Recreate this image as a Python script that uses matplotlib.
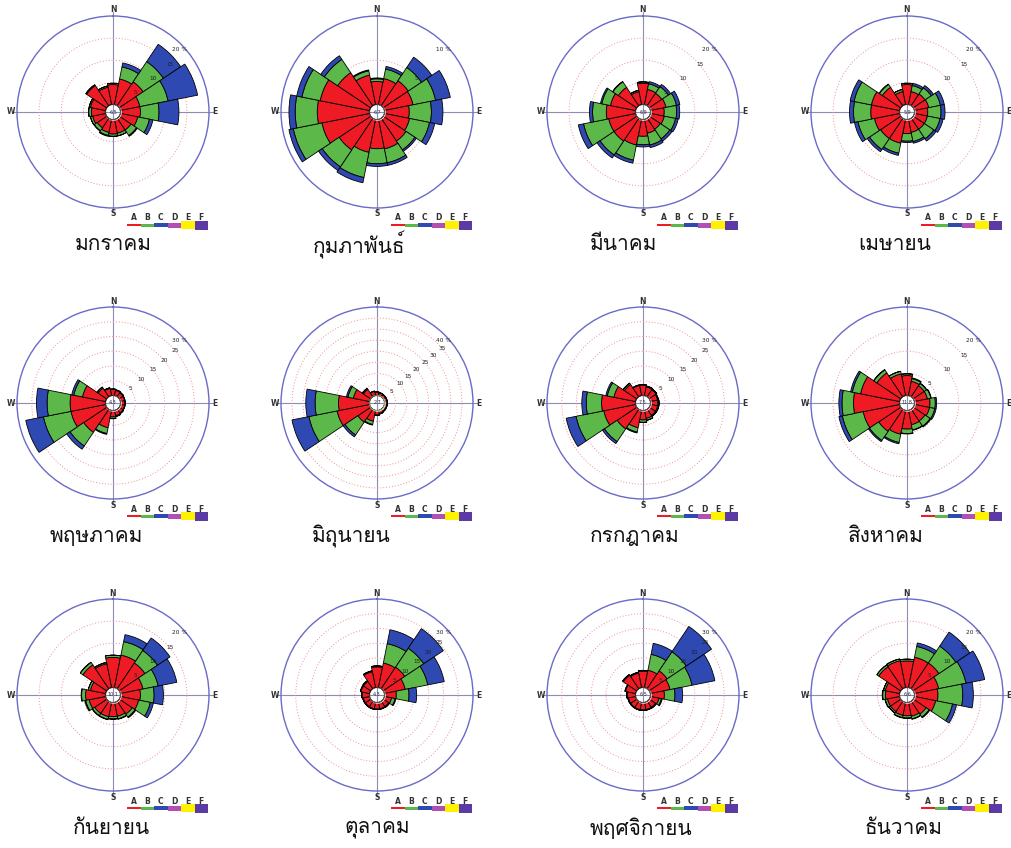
import numpy as np
import matplotlib
matplotlib.use("Agg")
import matplotlib.pyplot as plt
from matplotlib.patches import Rectangle

# wind rose data, % frequency per direction and speed class
directions = ["N", "NNE", "NE", "ENE", "E", "ESE", "SE", "SSE",
              "S", "SSW", "SW", "WSW", "W", "WNW", "NW", "NNW"]
months = ["มกราคม", "กุมภาพันธ์", "มีนาคม", "เมษายน",
          "พฤษภาคม", "มิถุนายน", "กรกฎาคม", "สิงหาคม",
          "กันยายน", "ตุลาคม", "พฤศจิกายน", "ธันวาคม"]
calm = ["6.5", "6.7", "6.9", "5.9", "4.3", "2.7", "7.5", "11.8", "10.1", "4.3", "6.5", "6.6"]
scale_max = [20, 10, 20, 20, 30, 40, 30, 20, 20, 30, 30, 20]
legend_letters = ["A", "B", "C", "D", "E", "F"]

a_jan = [4.5, 5.9, 6.5, 4.5, 4.5, 4.0, 3.2, 3.2, 3.3, 3.0, 2.6, 3.0, 3.2, 3.5, 5.5, 4.0]
b_jan = [0.3, 2.8, 5.5, 6.5, 4.2, 2.7, 1.5, 0.6, 0.5, 0.7, 0.8, 0.5, 0.6, 0.3, 0.2, 0.3]
c_jan = [0.0, 0.9, 4.7, 6.8, 4.5, 0.8, 0.2, 0.0, 0.0, 0.2, 0.1, 0.0, 0.0, 0.0, 0.0, 0.0]

a_feb = [2.6, 3.0, 3.4, 3.3, 2.8, 2.9, 3.1, 3.4, 3.3, 3.8, 4.3, 5.5, 5.9, 5.7, 4.5, 3.4]
b_feb = [0.3, 1.1, 1.8, 2.6, 2.5, 2.3, 1.2, 1.6, 1.7, 2.9, 2.3, 3.3, 2.5, 2.1, 1.8, 0.5]
c_feb = [0.1, 0.3, 1.4, 1.7, 1.3, 0.6, 0.2, 0.3, 0.3, 0.6, 0.5, 0.5, 0.7, 0.6, 0.5, 0.1]

a_mar = [4.8, 3.5, 3.4, 3.6, 3.1, 3.2, 3.0, 3.2, 3.8, 5.9, 6.2, 6.2, 6.6, 5.8, 5.0, 3.0]
b_mar = [0.3, 1.3, 1.8, 2.4, 2.8, 2.6, 2.6, 2.7, 1.9, 3.5, 3.8, 5.8, 3.1, 2.0, 1.5, 0.3]
c_mar = [0.0, 0.5, 0.6, 0.8, 0.7, 0.6, 0.6, 0.6, 0.5, 0.7, 0.8, 1.2, 0.7, 0.3, 0.1, 0.0]

a_apr = [4.5, 3.0, 3.2, 3.3, 3.0, 3.0, 3.0, 3.0, 3.2, 5.5, 5.5, 5.8, 6.5, 6.5, 5.0, 3.0]
b_apr = [0.3, 1.4, 1.7, 2.7, 3.0, 2.9, 2.6, 2.1, 1.7, 2.3, 3.0, 3.8, 3.9, 4.0, 0.8, 0.5]
c_apr = [0.0, 0.5, 0.6, 0.9, 0.9, 0.7, 0.6, 0.4, 0.3, 0.5, 0.6, 0.8, 0.9, 0.9, 0.1, 0.0]

a_may = [2.0, 1.8, 1.6, 1.5, 1.5, 1.5, 1.6, 1.8, 2.2, 6.0, 9.4, 12.0, 12.0, 8.0, 3.5, 2.5]
b_may = [0.2, 0.2, 0.2, 0.1, 0.1, 0.1, 0.2, 0.3, 0.5, 2.0, 5.6, 9.5, 7.8, 3.0, 0.4, 0.2]
c_may = [0.0, 0.0, 0.0, 0.0, 0.0, 0.0, 0.0, 0.0, 0.1, 0.3, 1.3, 6.1, 3.6, 0.7, 0.1, 0.0]

a_jun = [1.5, 1.3, 1.2, 1.2, 1.2, 1.2, 1.3, 1.5, 2.0, 5.0, 7.0, 15.0, 14.0, 7.5, 4.0, 2.0]
b_jun = [0.1, 0.1, 0.1, 0.1, 0.1, 0.1, 0.1, 0.2, 0.3, 1.5, 7.0, 13.0, 10.6, 2.5, 0.5, 0.1]
c_jun = [0.0, 0.0, 0.0, 0.0, 0.0, 0.0, 0.0, 0.0, 0.0, 0.3, 1.0, 7.8, 4.2, 0.7, 0.1, 0.0]

a_jul = [3.5, 3.0, 2.8, 2.5, 2.5, 2.5, 2.5, 2.8, 3.2, 6.0, 8.0, 11.0, 11.5, 7.5, 5.0, 3.5]
b_jul = [0.2, 0.3, 0.3, 0.3, 0.4, 0.4, 0.4, 0.6, 0.8, 1.5, 5.2, 9.6, 5.2, 2.3, 0.5, 0.2]
c_jul = [0.0, 0.0, 0.0, 0.0, 0.0, 0.0, 0.0, 0.1, 0.1, 0.3, 0.8, 3.4, 1.5, 0.5, 0.1, 0.0]

a_aug = [4.5, 3.3, 3.0, 3.0, 3.5, 3.5, 3.2, 3.3, 4.2, 5.5, 6.0, 8.4, 10.4, 9.0, 6.5, 5.0]
b_aug = [0.4, 0.6, 0.6, 0.8, 1.2, 1.2, 1.4, 1.2, 1.0, 1.9, 2.5, 4.8, 2.6, 1.9, 0.8, 0.6]
c_aug = [0.0, 0.2, 0.1, 0.1, 0.3, 0.3, 0.2, 0.1, 0.1, 0.3, 0.3, 0.8, 0.7, 0.4, 0.1, 0.0]

a_sep = [6.8, 7.5, 7.0, 5.2, 4.5, 4.2, 3.5, 3.2, 3.2, 3.3, 3.3, 3.8, 4.5, 3.5, 6.5, 5.5]
b_sep = [0.5, 3.1, 3.4, 3.5, 3.1, 2.7, 0.8, 0.6, 0.5, 0.6, 0.6, 0.8, 0.9, 0.5, 0.7, 0.3]
c_sep = [0.0, 1.6, 3.4, 4.3, 2.1, 0.7, 0.2, 0.1, 0.1, 0.1, 0.1, 0.2, 0.1, 0.0, 0.0, 0.0]

a_oct = [7.0, 8.5, 8.8, 7.2, 4.0, 2.5, 2.2, 2.2, 2.2, 2.2, 2.2, 2.2, 2.5, 3.0, 3.0, 5.5]
b_oct = [0.3, 6.7, 7.7, 7.8, 4.3, 1.2, 0.3, 0.2, 0.2, 0.2, 0.2, 0.2, 0.2, 0.2, 0.3, 0.3]
c_oct = [0.0, 4.8, 8.0, 5.7, 2.6, 0.3, 0.0, 0.0, 0.0, 0.0, 0.0, 0.0, 0.0, 0.0, 0.0, 0.0]

a_nov = [5.5, 6.0, 7.3, 6.8, 4.7, 3.0, 2.5, 2.5, 2.5, 2.5, 2.5, 2.5, 2.8, 3.5, 5.5, 5.0]
b_nov = [0.3, 5.5, 7.8, 7.6, 3.6, 0.8, 0.3, 0.2, 0.2, 0.2, 0.2, 0.2, 0.2, 0.2, 0.3, 0.3]
c_nov = [0.0, 3.8, 10.3, 7.9, 2.6, 0.3, 0.0, 0.0, 0.0, 0.0, 0.0, 0.0, 0.0, 0.0, 0.0, 0.0]

a_dec = [6.0, 7.0, 7.0, 5.6, 5.3, 4.9, 3.5, 3.2, 3.0, 3.0, 2.8, 2.8, 3.2, 3.3, 6.0, 6.2]
b_dec = [0.4, 2.5, 4.6, 6.3, 5.6, 3.9, 0.8, 0.6, 0.5, 0.5, 0.4, 0.5, 0.6, 0.4, 0.5, 0.4]
c_dec = [0.0, 0.8, 3.8, 4.3, 2.4, 0.9, 0.2, 0.1, 0.1, 0.1, 0.0, 0.1, 0.1, 0.0, 0.0, 0.0]

class_a = [a_jan, a_feb, a_mar, a_apr, a_may, a_jun, a_jul, a_aug, a_sep, a_oct, a_nov, a_dec]
class_b = [b_jan, b_feb, b_mar, b_apr, b_may, b_jun, b_jul, b_aug, b_sep, b_oct, b_nov, b_dec]
class_c = [c_jan, c_feb, c_mar, c_apr, c_may, c_jun, c_jul, c_aug, c_sep, c_oct, c_nov, c_dec]

W, H = 1011, 848
R = 96
centers_x = [113, 377, 643, 907]
centers_y = [112, 403, 695]
label_x = [75, 313, 590, 858, 50, 312, 590, 848, 73, 345, 590, 865]

seg_colors = ["#ee1b24", "#5cb848", "#2f49b2"]
leg_colors = ["#ee1b24", "#5cb848", "#2f49b2", "#b24fb5", "#fff200", "#5b3aa6"]
leg_heights = [2, 3, 4, 5, 8, 9]
thai_font = ["Loma", "Garuda", "Sarabun", "DejaVu Sans"]


def fx(x):
    return x / W


def fy(y):
    return 1 - y / H


fig = plt.figure(figsize=(W / 100, H / 100), dpi=100)

theta = np.deg2rad(np.arange(16) * 22.5)
width = np.deg2rad(22.5)

for i in range(12):
    cx = centers_x[i % 4]
    cy = centers_y[i // 4]
    rmax = scale_max[i]
    hole = rmax * 0.085
    ax = fig.add_axes([fx(cx - R), fy(cy + R), 2 * R / W, 2 * R / H], projection="polar")
    ax.set_theta_zero_location("N")
    ax.set_theta_direction(-1)
    ax.set_ylim(0, rmax)
    ax.set_rorigin(-hole)

    a = np.array(class_a[i])
    b = np.array(class_b[i])
    c = np.array(class_c[i])
    ax.bar(theta, a, width=width, bottom=0, color=seg_colors[0], edgecolor="black", linewidth=0.6, zorder=3)
    ax.bar(theta, b, width=width, bottom=a, color=seg_colors[1], edgecolor="black", linewidth=0.6, zorder=3)
    ax.bar(theta, c, width=width, bottom=a + b, color=seg_colors[2], edgecolor="black", linewidth=0.6, zorder=3)

    rings = list(range(5, rmax, 5))
    ax.set_yticks(rings)
    ax.set_yticklabels([])
    ax.set_xticks(np.deg2rad([0, 90, 180, 270]))
    ax.set_xticklabels([])
    ax.yaxis.grid(True, color="#f09090", linestyle=(0, (1, 2)), linewidth=0.7)
    ax.xaxis.grid(False)
    ax.spines["polar"].set_color("#6a6ac8")
    ax.spines["polar"].set_linewidth(1.0)

    # cross lines through the centre
    for t in [0, 90, 180, 270]:
        ax.plot([np.deg2rad(t)] * 2, [-hole, rmax * 1.04], color="#8c8cb4", lw=0.8,
                clip_on=False, zorder=1)

    # calm circle
    tt = np.linspace(0, 2 * np.pi, 120)
    edge = "#3a9a3a" if i == 5 else "black"
    ax.fill_between(tt, -hole, 0, color="white", zorder=4)
    ax.plot(tt, np.zeros_like(tt), color=edge, lw=0.8, zorder=5)
    ax.text(0.5, 0.5, calm[i], transform=ax.transAxes, ha="center", va="center",
            fontsize=3.5, color="#333333", zorder=6)

    # ring labels along the NE diagonal
    for r in rings:
        ax.text(np.deg2rad(50), r, str(r), ha="center", va="center", fontsize=4.2,
                color="#222222", zorder=6)
    ax.text(np.deg2rad(47), rmax * 0.95, "%d %%" % rmax, ha="center", va="center",
            fontsize=4.2, color="#222222", zorder=6)

    off = 102 / (2 * R)
    for lab, px, py in [("N", 0.5, 0.5 + off), ("S", 0.5, 0.5 - off),
                        ("W", 0.5 - off, 0.5), ("E", 0.5 + off, 0.5)]:
        ax.text(px, py, lab, transform=ax.transAxes, ha="center", va="center",
                fontsize=5.5, fontweight="bold", color="#333333")

    # speed class legend
    for k in range(6):
        x0 = cx + 14 + k * 13.5
        fig.text(fx(x0 + 6.5), fy(cy + 106), legend_letters[k], ha="center", va="center",
                 fontsize=5.5, fontweight="bold", color="#333333")
        h = leg_heights[k]
        fig.add_artist(Rectangle((fx(x0), fy(cy + 113 + h / 2)), 13.5 / W, h / H,
                                 transform=fig.transFigure, color=leg_colors[k], lw=0))

    fig.text(fx(label_x[i]), fy(cy + 133), months[i], ha="left", va="center",
             fontsize=15, family=thai_font, color="#111111")

fig.savefig("out.png", dpi=100)
